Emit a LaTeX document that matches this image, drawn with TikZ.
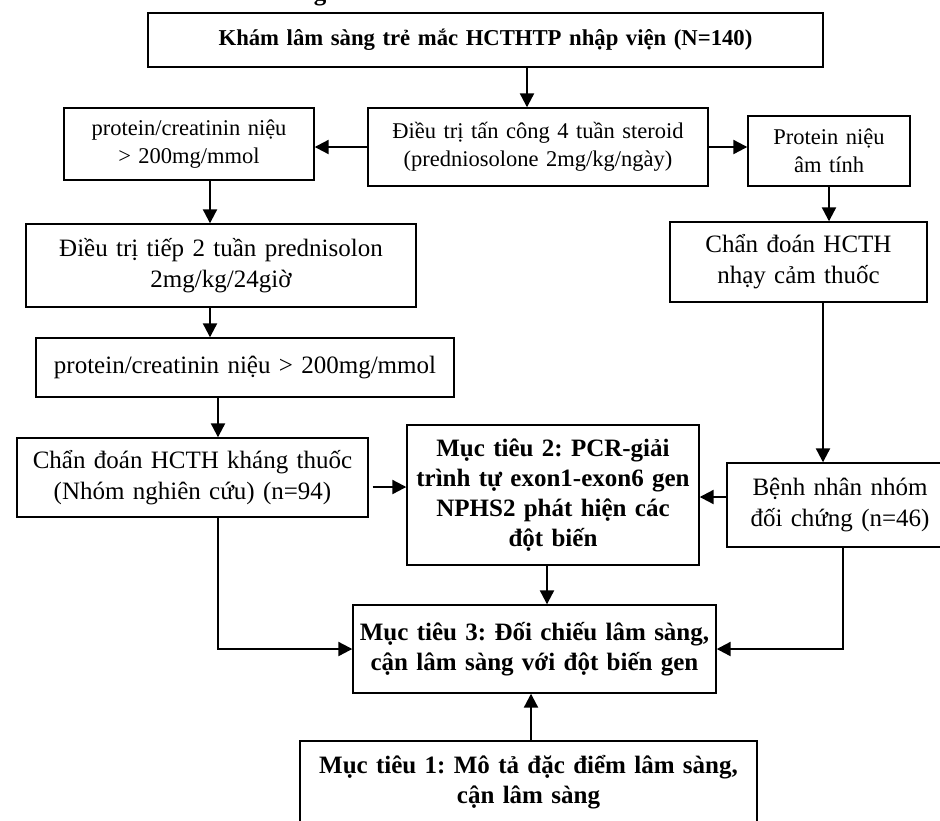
\documentclass[tikz,border=0pt]{standalone}
\usepackage{fontspec}
\setmainfont{Liberation Serif}
\usetikzlibrary{positioning, arrows.meta}
\frenchspacing
\tikzset{
box/.style={draw, line width=1.4pt, align=center, inner sep=0pt},
sbox/.style={box, font=\fontsize{22.5}{28}\selectfont},
bbox/.style={box, font=\fontsize{25}{31}\selectfont},
goal/.style={box, font=\fontsize{25}{30}\selectfont\bfseries},
arr/.style={line width=2.2pt, -{Triangle[length=14pt,width=14pt]}},
}

\begin{document}
\begin{tikzpicture}[x=1pt, y=-1pt]
    \useasboundingbox (0,0) rectangle (940,820);
    \clip (0,0) rectangle (940,820);

    %title cut off at the top
    \node[font=\fontsize{25}{30}\selectfont\bfseries, anchor=base, inner sep=0pt] (ttl) at (320,0) {g};

    %top row
    \node[goal, font=\fontsize{22.7}{28}\selectfont\bfseries, text width=675pt, minimum height=54pt] (kham) at (485.5,40) {Khám lâm sàng trẻ mắc HCTHTP nhập viện (N=140)};
    \node[sbox, text width=340pt, minimum height=78pt] (dieutri) at (538,147) {Điều trị tấn công 4 tuần steroid\\(predniosolone 2mg/kg/ngày)};
    \node[sbox, text width=250pt, minimum height=72pt] (protA) at (189,144) {protein/creatinin niệu\\> 200mg/mmol};
    \node[sbox, text width=162pt, minimum height=70pt] (amtinh) at (829,151) {Protein niệu\\âm tính};

    %left column
    \node[bbox, text width=390pt, minimum height=83pt] (tiep) at (221,265.5) {Điều trị tiếp 2 tuần prednisolon\\2mg/kg/24giờ};
    \node[bbox, text width=418pt, minimum height=59pt] (protB) at (245,367.5) {protein/creatinin niệu > 200mg/mmol};
    \node[bbox, text width=351pt, minimum height=79pt] (khang) at (192.5,477.5) {Chẩn đoán HCTH kháng thuốc\\(Nhóm nghiên cứu) (n=94)};

    %right column
    \node[bbox, text width=257pt, minimum height=80pt] (nhaycam) at (798.5,262) {Chẩn đoán HCTH\\nhạy cảm thuốc};
    \node[bbox, text width=226pt, minimum height=84pt] (doichung) at (840,505) {Bệnh nhân nhóm\\đối chứng (n=46)};

    %goals
    \node[goal, text width=292pt, minimum height=140pt] (mt2) at (553,495) {Mục tiêu 2: PCR-giải\\trình tự exon1-exon6 gen\\NPHS2 phát hiện các\\đột biến};
    \node[goal, text width=363pt, minimum height=88pt] (mt3) at (534.5,649) {Mục tiêu 3: Đối chiếu lâm sàng,\\cận lâm sàng với đột biến gen};
    \node[goal, text width=457pt, minimum height=82pt] (mt1) at (528.5,782) {Mục tiêu 1: Mô tả đặc điểm lâm sàng,\\cận lâm sàng};

    %arrow start points
    \coordinate (k1) at ([xshift=41.5pt]kham.south);
    \coordinate (d1) at ([xshift=24.5pt]nhaycam.south);
    \coordinate (p1) at ([xshift=21pt]protA.south);
    \coordinate (p2) at ([xshift=-11pt]tiep.south);
    \coordinate (p3) at ([xshift=-27pt]protB.south);
    \coordinate (e1) at ([xshift=4pt, yshift=-9.5pt]khang.east);
    \coordinate (e2) at ([xshift=25.5pt]khang.south);
    \coordinate (f1) at ([yshift=8pt]doichung.west);
    \coordinate (f2) at ([xshift=3pt]doichung.south);
    \coordinate (m2) at ([xshift=-6pt]mt2.south);
    \coordinate (m1) at ([xshift=2.5pt]mt1.north);

    %top arrows
    \draw[arr] (k1) -- (k1 |- dieutri.north);
    \draw[arr] (dieutri.west) -- (dieutri.west -| protA.east);
    \draw[arr] (dieutri.east) -- (dieutri.east -| amtinh.west);
    \draw[arr] (amtinh.south) -- (amtinh.south |- nhaycam.north);
    \draw[arr] (d1) -- (d1 |- doichung.north);

    %left arrows
    \draw[arr] (p1) -- (p1 |- tiep.north);
    \draw[arr] (p2) -- (p2 |- protB.north);
    \draw[arr] (p3) -- (p3 |- khang.north);

    %arrows to the goals
    \draw[arr] (e1) -- (e1 -| mt2.west);
    \draw[arr] (f1) -- (f1 -| mt2.east);
    \draw[arr] (m2) -- (m2 |- mt3.north);
    \draw[arr] (e2) |- (mt3.west);
    \draw[arr] (f2) |- (mt3.east);
    \draw[arr] (m1) -- (m1 |- mt3.south);
\end{tikzpicture}
\end{document}
